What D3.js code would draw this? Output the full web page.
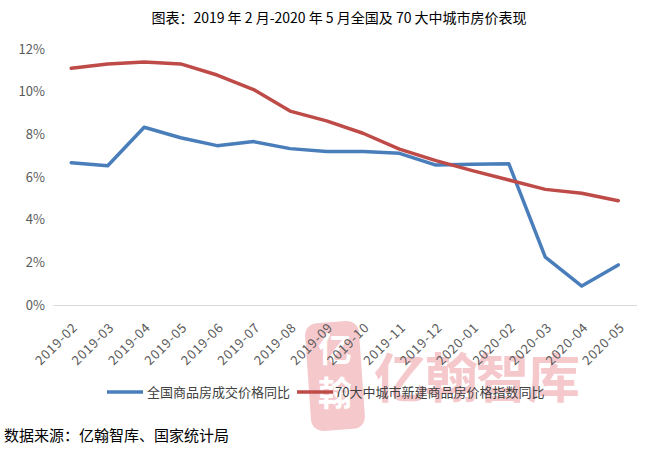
<!DOCTYPE html>
<html><head><meta charset="utf-8">
<script src="https://cdn.jsdelivr.net/npm/d3@7/dist/d3.min.js"></script>
<style>body{margin:0;background:#fff;} svg{display:block;}</style>
</head><body>
<svg id="chart" width="657" height="453"></svg>
<script>
const categories = ["2019-02","2019-03","2019-04","2019-05","2019-06","2019-07","2019-08","2019-09","2019-10","2019-11","2019-12","2020-01","2020-02","2020-03","2020-04","2020-05"];
const seriesNames = ["全国商品房成交价格同比","70大中城市新建商品房价格指数同比"];
const nationalSales = [6.67,6.53,8.33,7.84,7.47,7.66,7.33,7.19,7.19,7.11,6.56,6.60,6.62,2.24,0.89,1.88];
const cities70 = [11.10,11.30,11.39,11.30,10.78,10.10,9.09,8.63,8.05,7.31,6.77,6.30,5.86,5.42,5.24,4.89];
const yTicks = [0,2,4,6,8,10,12];
const colors = ["#4a7ebb","#be4b48"];
const titleText = "图表：2019 年 2 月-2020 年 5 月全国及 70 大中城市房价表现";
const sourceText = "数据来源：亿翰智库、国家统计局";

const svg = d3.select("#chart");
const font = "'Noto Sans CJK SC','Noto Sans',sans-serif";
const x = d3.scaleBand().domain(categories).range([53, 636.5]);
const y = d3.scaleLinear().domain([0,12]).range([305, 49]);
const cx = d => x(d) + x.bandwidth()/2;

// watermark
const wmColor = "#f5c8cc";
const wm = svg.append("g");
wm.append("rect").attr("x",308).attr("y",322).attr("width",54).attr("height",108).attr("rx",12)
  .attr("fill",wmColor).attr("transform","rotate(-4 335 376)");
wm.append("text").attr("x",335).attr("y",362).attr("text-anchor","middle").attr("font-family",font)
  .attr("font-size",34).attr("fill","#fff").attr("font-weight","bold").text("亿");
wm.append("text").attr("x",335).attr("y",406).attr("text-anchor","middle").attr("font-family",font)
  .attr("font-size",34).attr("fill","#fff").attr("font-weight","bold").text("翰");
wm.append("text").attr("x",374).attr("y",398).attr("font-family",font).attr("font-size",53)
  .attr("font-weight","bold").attr("fill",wmColor).attr("textLength",206).text("亿翰智库");

// title
svg.append("text").attr("x",339).attr("y",23).attr("text-anchor","middle").attr("font-family",font)
  .attr("font-size",14).attr("fill","#000").text(titleText);

// y axis labels
const yAxis = svg.append("g").attr("transform","translate(45,0)")
  .call(d3.axisLeft(y).tickValues(yTicks).tickFormat(d=>d+"%").tickSize(0).tickPadding(0));
yAxis.select(".domain").remove();
yAxis.selectAll("text").attr("font-family",font).attr("font-size",13).attr("fill","#595959");

// x axis
const xAxis = svg.append("g").attr("transform","translate(0,305)")
  .call(d3.axisBottom(x).tickSize(0).tickPadding(0));
xAxis.select(".domain").attr("stroke","#d9d9d9").attr("stroke-width",1);
xAxis.selectAll("text").attr("font-family",font).attr("font-size",13).attr("fill","#595959")
  .attr("letter-spacing","0.8px")
  .attr("text-anchor","end").attr("dy","0.35em")
  .attr("transform","translate(4,20) rotate(-45)");

// lines
const line = d3.line().x((d,i)=>cx(categories[i])).y(d=>y(d));
[nationalSales, cities70].forEach((s,i)=>{
  svg.append("path").datum(s).attr("d",line).attr("fill","none")
    .attr("stroke",colors[i]).attr("stroke-width",3.5).attr("stroke-linejoin","round").attr("stroke-linecap","round");
});

// legend
const legendItems = [{x:107,tx:147},{x:297,tx:335}];
legendItems.forEach((p,i)=>{
  svg.append("line").attr("x1",p.x).attr("x2",p.x+36).attr("y1",392).attr("y2",392)
    .attr("stroke",colors[i]).attr("stroke-width",3.5);
  svg.append("text").attr("x",p.tx).attr("y",392).attr("dy","0.35em").attr("font-family",font)
    .attr("font-size",13).attr("fill","#404040").text(seriesNames[i]);
});

// source
svg.append("text").attr("x",4).attr("y",441).attr("font-family",font).attr("font-size",15)
  .attr("fill","#000").text(sourceText);
</script>
</body></html>
